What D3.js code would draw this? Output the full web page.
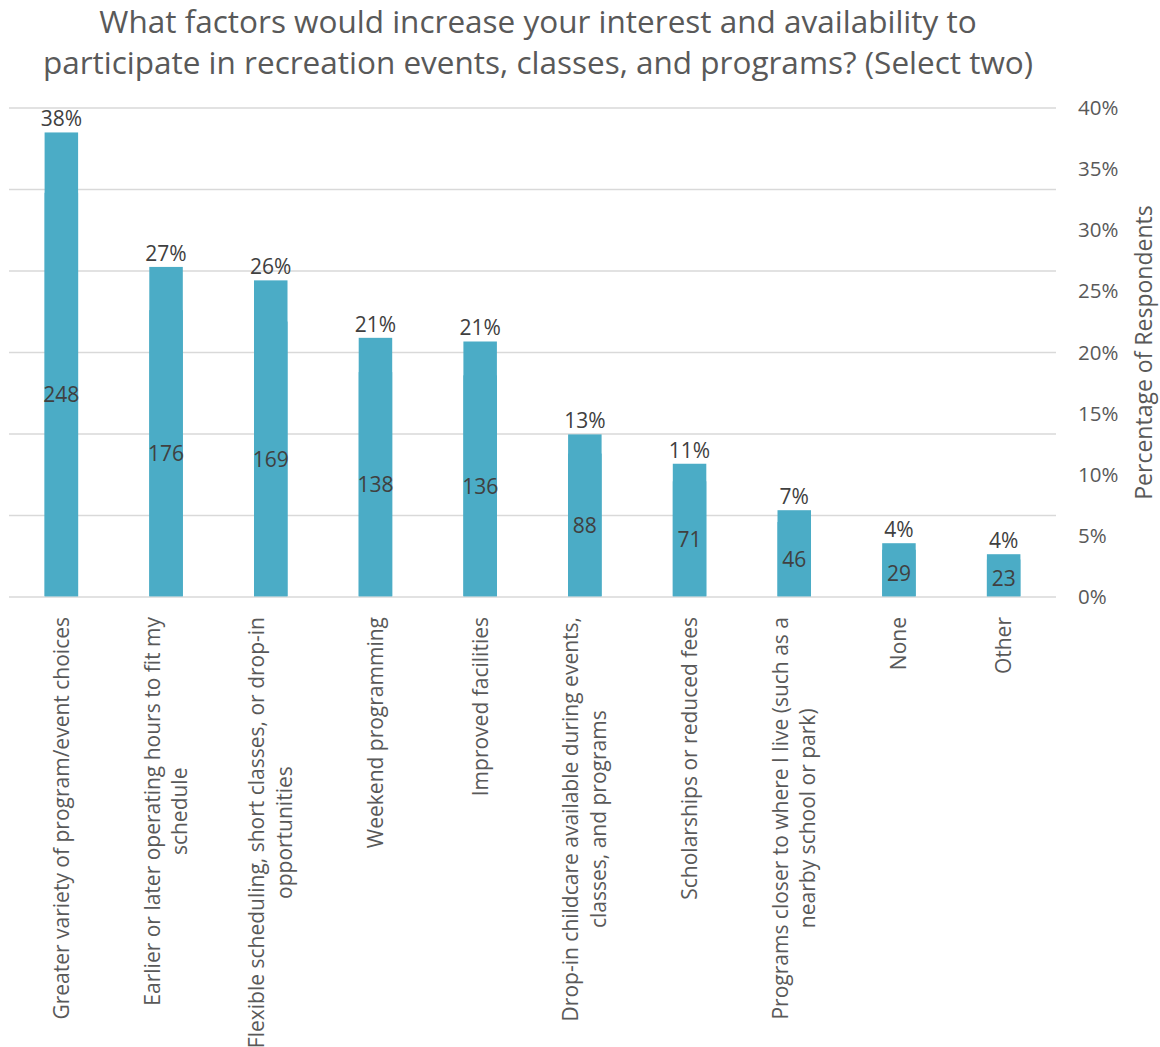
<!DOCTYPE html>
<html>
<head>
<meta charset="utf-8">
<script src="https://cdn.jsdelivr.net/npm/d3@7"></script>
<style>
  body { margin: 0; background: #fff; }
  svg { display: block; font-family: "Open Sans", sans-serif; }
</style>
</head>
<body>
<div id="chart"></div>
<script>
const titleLines = [
  "What factors would increase your interest and availability to",
  "participate in recreation events, classes, and programs? (Select two)"
];
const categories = [
  "Greater variety of program/event choices",
  "Earlier or later operating hours to fit my\nschedule",
  "Flexible scheduling, short classes, or drop-in\nopportunities",
  "Weekend programming",
  "Improved facilities",
  "Drop-in childcare available during events,\nclasses, and programs",
  "Scholarships or reduced fees",
  "Programs closer to where I live (such as a\nnearby school or park)",
  "None",
  "Other"
];
const percentValues = [38.0, 27.0, 25.9, 21.2, 20.9, 13.3, 10.9, 7.1, 4.4, 3.5];
const countValues = [248, 176, 169, 138, 136, 88, 71, 46, 29, 23];
const percentTicks = [0, 5, 10, 15, 20, 25, 30, 35, 40];
const countGridTicks = [0, 50, 100, 150, 200, 250, 300];
const yAxisTitle = "Percentage of Respondents";

const W = 1160, H = 1047;
const plotLeft = 9, plotRight = 1056, plotTop = 108, plotBottom = 597;

const svg = d3.select("#chart").append("svg").attr("width", W).attr("height", H);

const x = d3.scaleBand().domain(categories).range([plotLeft, plotRight]).paddingInner(0.68).paddingOuter(0.34);
const yPct = d3.scaleLinear().domain([0, 40]).range([plotBottom, plotTop]);
const yCnt = d3.scaleLinear().domain([0, 300]).range([plotBottom, plotTop]);

const color = "#4BACC6";

// title
svg.append("g").selectAll("text").data(titleLines).join("text")
  .attr("x", 538).attr("y", (d, i) => 33 + i * 41)
  .attr("text-anchor", "middle").attr("font-size", 31.5).attr("fill", "#595959")
  .text(d => d);

// gridlines (from hidden count axis)
svg.append("g").selectAll("line").data(countGridTicks).join("line")
  .attr("x1", plotLeft).attr("x2", plotRight)
  .attr("y1", d => yCnt(d)).attr("y2", d => yCnt(d))
  .attr("stroke", "#d9d9d9").attr("stroke-width", 1.5);

// count bars (hidden axis)
svg.append("g").selectAll("rect").data(countValues).join("rect")
  .attr("x", (d, i) => x(categories[i])).attr("width", x.bandwidth())
  .attr("y", d => yCnt(d)).attr("height", d => plotBottom - yCnt(d) - 0.75)
  .attr("fill", color);

// percent bars
svg.append("g").selectAll("rect").data(percentValues).join("rect")
  .attr("x", (d, i) => x(categories[i])).attr("width", x.bandwidth())
  .attr("y", d => yPct(d)).attr("height", d => plotBottom - yPct(d) - 0.75)
  .attr("fill", color);

// percent labels
svg.append("g").selectAll("text").data(percentValues).join("text")
  .attr("x", (d, i) => x(categories[i]) + x.bandwidth() / 2)
  .attr("y", d => yPct(d) - 6)
  .attr("text-anchor", "middle").attr("font-size", 21).attr("fill", "#404040")
  .text(d => Math.round(d) + "%");

// count labels
svg.append("g").selectAll("text").data(countValues).join("text")
  .attr("x", (d, i) => x(categories[i]) + x.bandwidth() / 2)
  .attr("y", d => (yCnt(d) + plotBottom) / 2)
  .attr("dy", "0.36em")
  .attr("text-anchor", "middle").attr("font-size", 21).attr("fill", "#404040")
  .text(d => d);

// right axis
const axisR = d3.axisRight(yPct).tickValues(percentTicks).tickFormat(d => d + "%").tickSize(0).tickPadding(0);
const gR = svg.append("g").attr("transform", `translate(1078,0)`).call(axisR);
gR.select(".domain").remove();
gR.selectAll("text").attr("font-size", 20.5).attr("fill", "#595959").attr("font-family", "Open Sans, sans-serif");

// axis title
svg.append("text")
  .attr("transform", `translate(1152,${(plotTop + plotBottom) / 2}) rotate(-90)`)
  .attr("text-anchor", "middle").attr("font-size", 23).attr("fill", "#595959")
  .text(yAxisTitle);

// category labels
const lab = svg.append("g").selectAll("g").data(categories).join("g")
  .attr("transform", d => `translate(${x(d) + x.bandwidth() / 2},617) rotate(-90)`);
lab.each(function(d) {
  const lines = d.split("\n");
  const lh = 27.5;
  const g = d3.select(this);
  lines.forEach((ln, i) => {
    const off = (i - (lines.length - 1) / 2) * lh;
    g.append("text").attr("x", 0).attr("y", off).attr("dy", "0.35em")
      .attr("text-anchor", lines.length > 1 ? "middle" : "end")
      .attr("font-size", 21).attr("fill", "#595959")
      .text(ln);
  });
});
// multi-line labels: block aligned at top, lines centred relative to each other
lab.each(function(d) {
  const texts = d3.select(this).selectAll("text");
  if (texts.size() > 1) {
    let maxW = 0;
    texts.each(function() { maxW = Math.max(maxW, this.getComputedTextLength()); });
    texts.attr("x", -maxW / 2);
  }
});
</script>
</body>
</html>
